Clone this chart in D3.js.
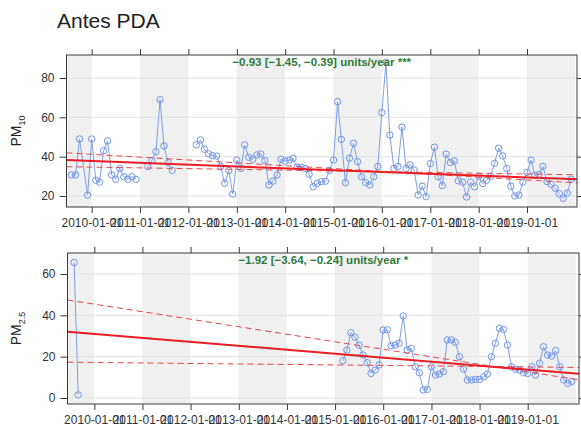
<!DOCTYPE html>
<html>
<head>
<meta charset="utf-8">
<script src="https://cdn.jsdelivr.net/npm/d3@7"></script>
<style>
  body { margin: 0; background: #fff; }
  text { font-family: "Liberation Sans", Arial, sans-serif; }
</style>
</head>
<body>
<svg id="chart" width="581" height="434"></svg>
<script>
/* monthly means, first value is 2009-08 */
var startMonth = new Date(2009, 7, 1);

var pm10 = [
  30.7, 30.7, 49, null, 20.5, 49, 28, 27, 43, 48, 30.7, 28.5, 34, 29.8, 28.5, 29.8, 28.5,
  null, null, 35, 38, 42.5, 69, 45.4, 37, 33,
  null, null, null, null, null,
  46, 48.5, 43.8, 41.5, 40.5, 40.3, 35, 26.5, 33, 21, 38.3, 34, 46, 39.7, 38.7, 40.9,
  41.4, 38, 25.6, 27.6, 30.7, 38.7, 37.7, 38.3, 39.2, 34.6, 34.6, 34, 31, 24.7, 26.5,
  27.3, 27.5, 33, 38.3, 68, 48.8, 26.8, 39.2, 46.8, 37.5, 29.8, 26.8, 25.6, 29.8, 35,
  62.4, 88, 51, 34, 35, 55, 34, 35.8, 33.2, 20.5, 25, 19.7, 36.5, 44.8, 29.8, 25.3,
  41.3, 37, 37.8, 27.7, 27, 19.5, 27, 24.7, 30, 26.3, 28, 30, 36.6, 44.3, 40.4, 34,
  25, 20, 20.5, 27, 32, 38.3, 30.5, 31, 35, 27.3, 26, 24, 21.2, 18.8, 21.5, 28.5
];

var pm25 = [
  65.6, 1.5,
  null, null, null, null, null, null, null, null, null, null, null, null, null,
  null, null, null, null, null, null, null, null, null, null, null, null, null,
  null, null, null, null, null, null, null, null, null, null, null, null, null,
  null, null, null, null, null, null, null, null, null, null, null, null, null,
  null, null, null, null, null, null, null, null, null, null, null, null, null,
  18, 23.2, 31.6, 29.4, 25.6, 20.8, 17.1, 11.9, 13.5, 16, 32.9, 33, 25.2, 25.6,
  26.5, 39.7, 23.2, 24, 15.1, 12.2, 3.9, 4.2, 15.1, 11.1, 11.6, 12.7, 28.1, 28.1,
  27, 20, 14, 8.7, 8.7, 9, 9, 10.3, 11.6, 20, 26.5, 33.7, 33.2, 25.6, 15.1, 13.9,
  13.5, 12.2, 11.9, 15.1, 11.1, 16.8, 24.8, 20.8, 20.3, 22.9, 15.1, 8.7, 7.1, 8
];

var tickYears = [2010, 2011, 2012, 2013, 2014, 2015, 2016, 2017, 2018, 2019];
var pm10Ticks = [20, 40, 60, 80];
var pm25Ticks = [0, 20, 40, 60];

// Theil-Sen trend: value at 2010-01-01 and slope per year (mid, upper, lower)
var pm10At2010 = [37.8, 41.2, 34.7];
var pm10Slope = [-0.93, -1.45, -0.39];
var pm25At2010 = [31.0, 45.4, 17.2];
var pm25Slope = [-1.92, -3.64, -0.24];

var pm10Label = "\u22120.93 [\u22121.45, \u22120.39] units/year ***";
var pm25Label = "\u22121.92 [\u22123.64, \u22120.24] units/year *";

var svg = d3.select("#chart");

svg.append("text")
  .attr("x", 57).attr("y", 28)
  .attr("font-family", "'Open Sans', sans-serif")
  .attr("font-size", 21)
  .attr("fill", "#222")
  .text("Antes PDA");

function drawPanel(cfg) {
  var g = svg.append("g");

  var x = d3.scaleTime()
    .domain([new Date(2010, 0, 1), new Date(2019, 0, 1)])
    .range([cfg.x2010, cfg.x2019]);
  var y = d3.scaleLinear()
    .domain([cfg.yLow[0], cfg.yHigh[0]])
    .range([cfg.yLow[1], cfg.yHigh[1]]);

  var clipId = "clip" + cfg.id;
  svg.append("clipPath").attr("id", clipId)
    .append("rect")
    .attr("x", cfg.left).attr("y", cfg.top)
    .attr("width", cfg.right - cfg.left).attr("height", cfg.bottom - cfg.top);

  var inner = g.append("g").attr("clip-path", "url(#" + clipId + ")");

  // year shading
  var years = d3.range(2009, 2021);
  inner.selectAll("rect.shade")
    .data(years.filter(function(yr) { return yr % 2 == 1; }))
    .enter()
    .append("rect")
    .attr("class", "shade")
    .attr("x", function(yr) { return x(new Date(yr, 0, 1)); })
    .attr("width", function(yr) { return x(new Date(yr + 1, 0, 1)) - x(new Date(yr, 0, 1)); })
    .attr("y", cfg.top)
    .attr("height", cfg.bottom - cfg.top)
    .attr("fill", "#f0f0f0");

  // horizontal grid
  inner.selectAll("line.grid")
    .data(cfg.ticks)
    .enter()
    .append("line")
    .attr("class", "grid")
    .attr("x1", cfg.left).attr("x2", cfg.right)
    .attr("y1", function(d) { return y(d); })
    .attr("y2", function(d) { return y(d); })
    .attr("stroke", "#e2e2e2")
    .attr("stroke-width", 1);

  // data points
  var pts = [];
  cfg.values.forEach(function(v, i) {
    if (v != null) pts.push({ i: i, date: d3.timeMonth.offset(startMonth, i), v: v });
  });

  // split into runs (a single missing month keeps the line joined)
  var segs = [];
  var cur = [];
  pts.forEach(function(p, k) {
    if (k > 0 && p.i - pts[k - 1].i > 2) { segs.push(cur); cur = []; }
    cur.push(p);
  });
  if (cur.length) segs.push(cur);

  var line = d3.line()
    .x(function(d) { return x(d.date); })
    .y(function(d) { return y(d.v); });

  inner.selectAll("path.series")
    .data(segs)
    .enter()
    .append("path")
    .attr("class", "series")
    .attr("d", line)
    .attr("fill", "none")
    .attr("stroke", "#7f9fe6")
    .attr("stroke-width", 1);

  inner.selectAll("circle.pt")
    .data(pts)
    .enter()
    .append("circle")
    .attr("class", "pt")
    .attr("cx", function(d) { return x(d.date); })
    .attr("cy", function(d) { return y(d.v); })
    .attr("r", 3.2)
    .attr("fill", "none")
    .attr("stroke", "#6f95e8")
    .attr("stroke-width", 1);

  // trend lines
  var t0 = new Date(2010, 0, 1);
  var dL = x.invert(cfg.left), dR = x.invert(cfg.right);
  var yrsL = (dL - t0) / (365.25 * 864e5);
  var yrsR = (dR - t0) / (365.25 * 864e5);
  var trends = cfg.at2010.map(function(a, k) {
    return { k: k, a: a, b: cfg.slope[k] };
  });
  // dashed first, solid on top
  inner.selectAll("line.trend")
    .data([trends[1], trends[2], trends[0]])
    .enter()
    .append("line")
    .attr("class", "trend")
    .attr("x1", cfg.left).attr("x2", cfg.right)
    .attr("y1", function(d) { return y(d.a + d.b * yrsL); })
    .attr("y2", function(d) { return y(d.a + d.b * yrsR); })
    .attr("stroke", function(d) { return d.k == 0 ? "#ee1c24" : "#e8474c"; })
    .attr("stroke-width", function(d) { return d.k == 0 ? 2 : 1; })
    .attr("stroke-dasharray", function(d) { return d.k == 0 ? null : "6,4"; });

  // frame
  g.append("rect")
    .attr("x", cfg.left).attr("y", cfg.top)
    .attr("width", cfg.right - cfg.left).attr("height", cfg.bottom - cfg.top)
    .attr("fill", "none")
    .attr("stroke", "#3a3a3a")
    .attr("stroke-width", 1);

  var tickDates = tickYears.map(function(yr) { return new Date(yr, 0, 1); });

  var xAxis = d3.axisBottom(x)
    .tickValues(tickDates)
    .tickFormat(d3.timeFormat("%Y-%m-%d"))
    .tickSizeInner(6).tickSizeOuter(0).tickPadding(5);
  var xTop = d3.axisTop(x)
    .tickValues(tickDates).tickFormat("")
    .tickSizeInner(6).tickSizeOuter(0);
  var yAxis = d3.axisLeft(y)
    .tickValues(cfg.ticks)
    .tickSizeInner(7).tickSizeOuter(0).tickPadding(5);
  var yRight = d3.axisRight(y)
    .tickValues(cfg.ticks).tickFormat("")
    .tickSizeInner(4).tickSizeOuter(0);

  function style(sel) {
    sel.select(".domain").remove();
    sel.selectAll(".tick line").attr("stroke", "#3a3a3a");
    sel.selectAll(".tick text")
      .attr("font-family", "'Liberation Sans', Arial, sans-serif")
      .attr("font-size", 12)
      .attr("fill", "#333");
  }

  g.append("g").attr("transform", "translate(0," + cfg.bottom + ")").call(xAxis).call(style);
  g.append("g").attr("transform", "translate(0," + cfg.top + ")").call(xTop).call(style);
  g.append("g").attr("transform", "translate(" + cfg.left + ",0)").call(yAxis).call(style);
  g.append("g").attr("transform", "translate(" + cfg.right + ",0)").call(yRight).call(style);

  // y title with subscript
  var yt = g.append("text")
    .attr("transform", "translate(" + 21 + "," + ((cfg.top + cfg.bottom) / 2) + ") rotate(-90)")
    .attr("text-anchor", "middle")
    .attr("font-size", 14)
    .attr("fill", "#222");
  yt.append("tspan").text("PM");
  yt.append("tspan").attr("font-size", 9).attr("dy", 4).text(cfg.sub);

  // trend annotation
  g.append("text")
    .attr("x", (cfg.left + cfg.right) / 2)
    .attr("y", cfg.top + 11)
    .attr("text-anchor", "middle")
    .attr("font-size", 11.5)
    .attr("font-weight", "bold")
    .attr("fill", "#2f7a3a")
    .text(cfg.label);
}

drawPanel({
  id: "a", values: pm10, ticks: pm10Ticks, sub: "10", label: pm10Label,
  at2010: pm10At2010, slope: pm10Slope,
  left: 66.5, right: 577, top: 55, bottom: 207,
  x2010: 91.7, x2019: 527,
  yLow: [20, 196], yHigh: [80, 78]
});

drawPanel({
  id: "b", values: pm25, ticks: pm25Ticks, sub: "2.5", label: pm25Label,
  at2010: pm25At2010, slope: pm25Slope,
  left: 67.5, right: 579, top: 253, bottom: 404,
  x2010: 94.3, x2019: 527.7,
  yLow: [0, 398], yHigh: [60, 274]
});
</script>
</body>
</html>
